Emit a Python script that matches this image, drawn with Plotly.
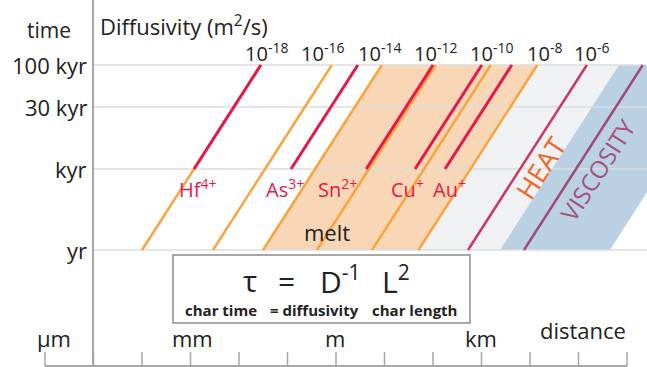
import plotly.graph_objects as go

# ---------------- data (schematic) ----------------
# time axis (log10 years) tick labels and their positions on the schematic
time_labels = ["100 kyr", "30 kyr", "kyr", "yr"]
time_ticks = [5.0, 3.865, 2.189, 0.0]          # log10(yr) positions used in diagram

# distance axis: log10(m) decades
dist_decades = list(range(-6, 7))
dist_labels = ["μm", "mm", "m", "km"]
dist_label_vals = [-6, -3, 0, 3]

# diffusivity labels along the top
diff_exponents = [-18, -16, -14, -12, -10, -8, -6]

# diffusion lines: log10 length (m) reached after 1 yr
orange_L1yr = [-4.00, -2.536, -1.505, -0.392, 0.742, 1.70]       # full lines yr -> 100 kyr
ion_names = ["Hf<sup>4+</sup>", "As<sup>3+</sup>", "Sn<sup>2+</sup>", "Cu<sup>+</sup>", "Au<sup>+</sup>"]
ion_L1yr = [-4.00, -2.00, -0.45, 0.557, 1.175]                  # red lines kyr -> 100 kyr
melt_band = (-1.505, 1.70)
heat_L1yr = 2.722
visc_L1yr = 3.876
fluid_band = (1.70, 3.381)
visc_band = (3.381, 5.649)
slope = 0.49      # log L per log t  (tau ~ L^2 / D)

# ---------------- geometry helpers ----------------
def xd(px):
    return (px - 45) / 48.5 - 6

def yd(py):
    return (250 - py) / 37

def xline(L1, t):
    return L1 + slope * t

T0, T1 = 0.0, 5.0
TK = time_ticks[2]

RED = "#E8174B"
ORANGE = "#F7A540"
MELT = "#F9D6B5"
GREY = "#F0F1F3"
BLUE = "#B9D1E3"
HEATC = "#C8386A"
VISCC = "#A04C78"
FONT = "Open Sans"

fig = go.Figure()

def band(lo, hi, color):
    xs = [xline(lo, T0), xline(hi, T0), xline(hi, T1), xline(lo, T1), xline(lo, T0)]
    ys = [T0, T0, T1, T1, T0]
    fig.add_trace(go.Scatter(x=xs, y=ys, mode="lines", fill="toself", fillcolor=color,
                             line=dict(width=0), hoverinfo="skip", showlegend=False))

band(*fluid_band, GREY)
band(*visc_band, BLUE)
band(*melt_band, MELT)

# gridlines
for t in time_ticks:
    fig.add_trace(go.Scatter(x=[xd(93), xd(647)], y=[t, t], mode="lines",
                             line=dict(color="#DCDCDC", width=1.5), hoverinfo="skip", showlegend=False))

def seg(L1, ta, tb, color, w):
    fig.add_trace(go.Scatter(x=[xline(L1, ta), xline(L1, tb)], y=[ta, tb], mode="lines",
                             line=dict(color=color, width=w), hoverinfo="skip", showlegend=False))

for L1 in orange_L1yr:
    seg(L1, T0, T1, ORANGE, 2.5)
for L1 in ion_L1yr:
    seg(L1, TK, T1, RED, 3)
seg(heat_L1yr, T0, T1, HEATC, 2.5)
seg(visc_L1yr, T0, T1, VISCC, 2.5)

shapes = []
# vertical time axis line
shapes.append(dict(type="line", x0=xd(93), x1=xd(93), y0=yd(0), y1=yd(366),
                   line=dict(color="#A6A6A6", width=2)))
# bottom distance axis
shapes.append(dict(type="line", x0=dist_decades[0], x1=dist_decades[-1], y0=yd(366), y1=yd(366),
                   line=dict(color="#A6A6A6", width=2)))
for d in dist_decades:
    shapes.append(dict(type="line", x0=d, x1=d, y0=yd(352), y1=yd(366),
                       line=dict(color="#A6A6A6", width=1.5)))
# equation box
shapes.append(dict(type="rect", x0=xd(173), x1=xd(470), y0=yd(255), y1=yd(323),
                   line=dict(color="#8C8C8C", width=1.5), fillcolor="white", layer="above"))

ann = []
def text(x, y, s, size, color="#222222", xanchor="center", angle=0, bold=False, family=FONT):
    if bold:
        s = "<b>" + s + "</b>"
    ann.append(dict(x=x, y=y, xref="x", yref="y", text=s, showarrow=False, xanchor=xanchor,
                    yanchor="middle", textangle=angle,
                    font=dict(size=size, color=color, family=family)))

# time tick labels
for lab, t in zip(time_labels, time_ticks):
    text(xd(89), t, lab, 22, xanchor="right")
text(xd(49), yd(30), "time", 21)
text(xd(98), yd(25), "Diffusivity (m<sup>2</sup>/s)", 22, xanchor="left")

# diffusivity exponent labels
diff_label_px = [266, 322, 379, 435, 491, 544, 591]
for e, px in zip(diff_exponents, diff_label_px):
    text(xd(px), yd(52), "10<sup>%d</sup>" % e, 20)

# ion labels
ion_label_px = [198, 285, 337, 407, 449]
for name, px in zip(ion_names, ion_label_px):
    text(xd(px), yd(188), name, 20, color=RED)

text(xd(327), yd(232), "melt", 22)
text(xd(540), yd(168), "HEAT", 27, color="#F26522", angle=-57)
text(xd(597), yd(170), "VISCOSITY", 24, color="#A6507E", angle=-57)

# equation
text(xd(250), yd(280), "τ", 30)
text(xd(286), yd(280), "=", 30)
text(xd(340), yd(280), "D<sup>-1</sup>", 30)
text(xd(396), yd(280), "L<sup>2</sup>", 30)
text(xd(221), yd(310), "char time", 15, bold=True)
text(xd(314), yd(310), "= diffusivity", 15, bold=True)
text(xd(414), yd(310), "char length", 15, bold=True)

# distance labels
dist_label_px = [54, 192, 335, 481]
for lab, px in zip(dist_labels, dist_label_px):
    text(xd(px), yd(338), lab, 22)
text(xd(583), yd(330), "distance", 22)

fig.update_layout(
    width=647, height=367,
    margin=dict(l=0, r=0, t=0, b=0),
    paper_bgcolor="white", plot_bgcolor="white",
    xaxis=dict(range=[xd(0), xd(647)], visible=False, fixedrange=True),
    yaxis=dict(range=[yd(367), yd(0)], visible=False, fixedrange=True),
    shapes=shapes, annotations=ann, showlegend=False,
)

fig.write_html("out.html")
